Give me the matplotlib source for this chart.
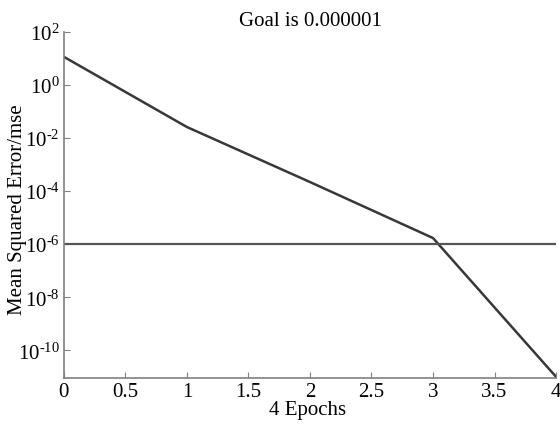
import numpy as np
import matplotlib
matplotlib.use("Agg")
import matplotlib.pyplot as plt
from matplotlib.ticker import NullLocator

plt.rcParams['font.family'] = ['Liberation Serif', 'DejaVu Serif']
plt.rcParams['mathtext.fontset'] = 'custom'
plt.rcParams['mathtext.rm'] = 'Liberation Serif'
plt.rcParams['mathtext.it'] = 'Liberation Serif:italic'
plt.rcParams['mathtext.bf'] = 'Liberation Serif:bold'
plt.rcParams['axes.unicode_minus'] = False

# training performance
epochs = [0, 1, 2, 3, 4]
mse = [11.5, 0.026, 2.2e-4, 1.7e-6, 1.0e-11]
goal = 1e-6
title = "Goal is 0.000001"
x_ticks = [0, 0.5, 1, 1.5, 2, 2.5, 3, 3.5, 4]
x_labels = ["0", "0.5", "1", "1.5", "2", "2.5", "3", "3.5", "4"]
y_exps = [-10, -8, -6, -4, -2, 0, 2]

fig = plt.figure(figsize=(5.6, 4.27), dpi=100)
ax = fig.add_axes([0.114, 0.112, 0.879, 0.811])

ax.plot(epochs, mse, color="#383838", lw=1.8)
ax.axhline(goal, color="#555555", lw=1.6)

ax.set_yscale("log")
ax.set_xlim(0, 4)
ax.set_ylim(10**-11.05, 1e2)
ax.set_xticks(x_ticks)
ax.set_xticklabels(x_labels)
ax.set_yticks([10.0**e for e in y_exps])
ax.set_yticklabels([r"10$^{\mathrm{%s}}$" % str(e).replace("-", "\u2010") for e in y_exps])
ax.yaxis.set_minor_locator(NullLocator())

for s in ["top", "right"]:
    ax.spines[s].set_visible(False)
for s in ["left", "bottom"]:
    ax.spines[s].set_color("#808080")
    ax.spines[s].set_linewidth(1.2)
ax.tick_params(direction="in", length=4, color="#808080", labelsize=15, pad=3)

ax.set_title(title, fontsize=15, pad=5)
ax.set_xlabel("4 Epochs", fontsize=15)
ax.xaxis.set_label_coords(0.495, -0.063)
ax.set_ylabel("Mean Squared Error/mse", fontsize=15)
ax.yaxis.set_label_coords(-0.075, 0.49)

fig.savefig("out.png", dpi=100)
